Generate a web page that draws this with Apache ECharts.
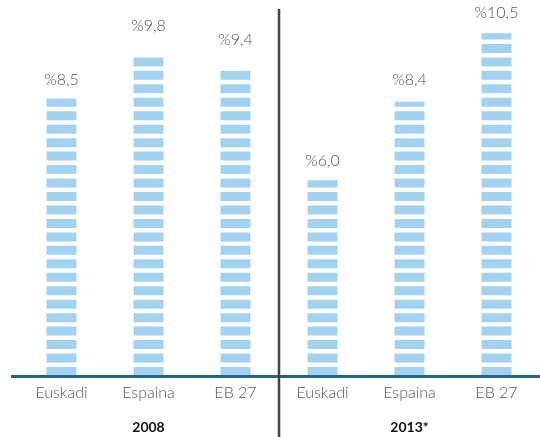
<!DOCTYPE html>
<html><head><meta charset="utf-8">
<script src="https://cdn.jsdelivr.net/npm/echarts@6/dist/echarts.min.js"></script>
<style>html,body{margin:0;padding:0;background:#fff}#c{width:540px;height:437px}</style>
</head><body><div id="c"></div>
<script>
const categories = ['Euskadi','Espaina','EB 27','Euskadi','Espaina','EB 27'];
const years = ['2008','2013*'];
const values = [8.5, 9.8, 9.4, 6.0, 8.4, 10.5];

const chart = echarts.init(document.getElementById('c'), null, {renderer:'canvas'});
const fontFam = 'Lato, "Open Sans", sans-serif';
const option = {
  animation: false,
  grid: {left: 18, width: 529, top: 17, bottom: 61, containLabel: false},
  xAxis: [
    {type:'category', data: categories, boundaryGap: true,
     axisLine:{show:false}, axisTick:{show:false},
     axisLabel:{color:'#555', fontSize:16, fontFamily:fontFam, fontWeight:300, margin:9}},
    {type:'category', data: years, position:'bottom', offset:36, boundaryGap:true,
     axisLine:{show:false}, axisTick:{show:false},
     axisLabel:{color:'#111', fontSize:14, fontWeight:'bold', fontFamily:fontFam}}
  ],
  yAxis: {type:'value', min:0, max:11, show:false, splitLine:{show:false}},
  series: [{
    type:'pictorialBar', xAxisIndex:0, data: values,
    symbol:'rect', symbolRepeat:true, symbolSize:[30,9], symbolMargin:2.3,
    symbolPosition:'start', symbolClip:true,
    itemStyle:{color:'#a2d2f0'},
    label:{show:true, position:'top', distance:10, color:'#555', fontSize:16,
      fontFamily:fontFam, fontWeight:300,
      formatter: p => '%' + p.value.toFixed(1).replace('.', ',')}
  }]
};
chart.setOption(option);
const y0 = chart.convertToPixel({yAxisIndex:0}, 0);
const xa = chart.convertToPixel({xAxisIndex:0}, 2);
const xb = chart.convertToPixel({xAxisIndex:0}, 3);
const xd = (xa + xb) / 2;
chart.setOption({graphic: [
  {type:'line', shape:{x1:11, y1:y0+0.5, x2:540, y2:y0+0.5}, style:{stroke:'#1f6386', lineWidth:3}, z:10},
  {type:'line', shape:{x1:xd, y1:9, x2:xd, y2:437}, style:{stroke:'#3b4549', lineWidth:2.5}, z:10}
]});
</script></body></html>
